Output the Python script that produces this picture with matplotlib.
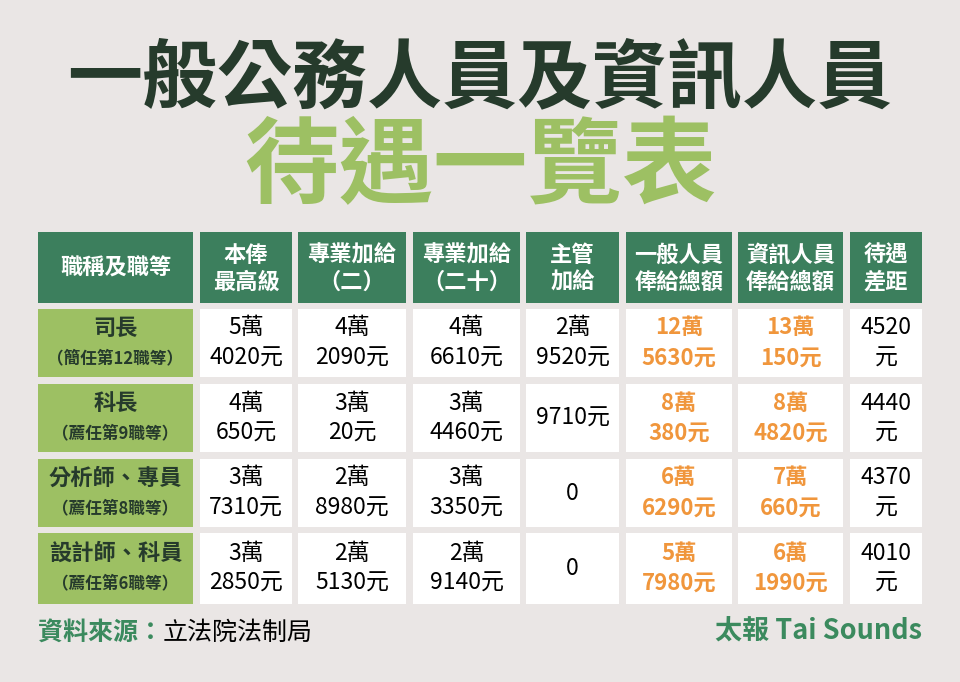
import matplotlib
matplotlib.use('Agg')
import matplotlib.pyplot as plt
from matplotlib.patches import Rectangle

plt.rcParams['font.family'] = ['Noto Sans CJK TC', 'DejaVu Sans']

# table content
headers = ['職稱及職等', '本俸\n最高級', '專業加給\n（二）', '專業加給\n（二十）',
           '主管\n加給', '一般人員\n俸給總額', '資訊人員\n俸給總額', '待遇\n差距']
titles = ['司長', '科長', '分析師、專員', '設計師、科員']
grades = ['（簡任第12職等）', '（薦任第9職等）', '（薦任第8職等）', '（薦任第6職等）']
base_pay = [54020, 40650, 37310, 32850]
prof_pay_2 = [42090, 30020, 28980, 25130]
prof_pay_20 = [46610, 34460, 33350, 29140]
supervisor_pay = [29520, 9710, 0, 0]
general_total = [125630, 80380, 66290, 57980]
it_total = [130150, 84820, 70660, 61990]
pay_gap = [4520, 4440, 4370, 4010]

# layout (pixels)
col_left = [38, 200, 298, 413, 526, 626, 738, 850]
col_right = [193, 292, 406, 520, 619, 732, 843, 922]
row_top = [232, 309, 384, 459, 533]
row_bot = [303, 377, 452, 527, 604]

BG = '#EAE6E5'
DARK = '#263B2C'
HEAD = '#3C7F5D'
LIGHT = '#9DC063'
ORANGE = '#F0963C'
FOOT = '#3B8A5E'


def money(v):
    if v == 0:
        return ['0']
    if v >= 10000:
        return ['%d萬' % (v // 10000), '%d元' % (v % 10000)]
    return ['%d元' % v]


fig = plt.figure(figsize=(9.6, 6.82), dpi=100, facecolor=BG)
ax = fig.add_axes([0, 0, 1, 1])
ax.set_xlim(0, 960)
ax.set_ylim(682, 0)
ax.axis('off')
ax.set_facecolor(BG)

# title
ax.text(480, 79, '一般公務人員及資訊人員', ha='center', va='center',
        fontsize=54, fontweight='black', color=DARK)
ax.text(480, 168, '待遇一覽表', ha='center', va='center',
        fontsize=68, fontweight='black', color=LIGHT)


def cell(c, r, color):
    x0, x1 = col_left[c], col_right[c]
    y0, y1 = row_top[r], row_bot[r]
    ax.add_patch(Rectangle((x0, y0), x1 - x0, y1 - y0, facecolor=color,
                           edgecolor='none'))
    return (x0 + x1) / 2, (y0 + y1) / 2


def lines(cx, cy, parts, step=30, **kw):
    n = len(parts)
    for i, p in enumerate(parts):
        ax.text(cx, cy + (i - (n - 1) / 2) * step, p, ha='center', va='center', **kw)


# header row
for c, h in enumerate(headers):
    cx, cy = cell(c, 0, HEAD)
    lines(cx, cy + 1, h.split('\n'), step=27, fontsize=16, fontweight='bold', color='white')

columns = [base_pay, prof_pay_2, prof_pay_20, supervisor_pay, general_total, it_total]
for r in range(len(titles)):
    cx, cy = cell(0, r + 1, LIGHT)
    ax.text(cx, cy - 15, titles[r], ha='center', va='center', fontsize=16,
            fontweight='bold', color=DARK)
    ax.text(cx, cy + 15, grades[r], ha='center', va='center', fontsize=12,
            fontweight='bold', color=DARK)
    for c, col in enumerate(columns):
        cx, cy = cell(c + 1, r + 1, 'white')
        if c >= 4:
            lines(cx, cy, money(col[r]), fontsize=16, fontweight='bold', color=ORANGE)
        else:
            lines(cx, cy, money(col[r]), fontsize=16.5, color='black')
    cx, cy = cell(7, r + 1, 'white')
    lines(cx, cy, [str(pay_gap[r]), '元'], fontsize=16.5, color='black')

# footer
t = ax.text(38, 633, '資料來源：', ha='left', va='center', fontsize=18,
            fontweight='bold', color=FOOT)
ax.annotate('立法院法制局', xy=(1, 0.5), xycoords=t, ha='left', va='center',
            fontsize=18, color='black')
ax.text(922, 632, '太報 Tai Sounds', ha='right', va='center', fontsize=19.5,
        fontweight='bold', color=FOOT)

fig.savefig('out.png', dpi=100, facecolor=BG)
